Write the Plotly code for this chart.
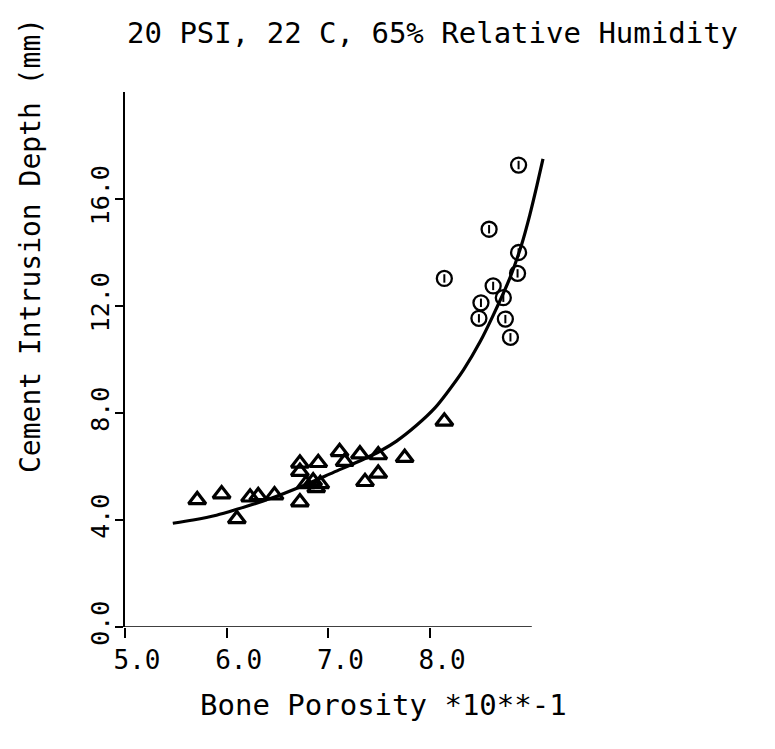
import plotly.graph_objects as go

# Triangles (lower porosity group)
tri_x = [5.71, 5.95, 6.10, 6.23, 6.31, 6.47, 6.72, 6.72, 6.72, 6.90, 6.78, 6.85, 6.92, 6.88,
         7.11, 7.16, 7.31, 7.49, 7.36, 7.49, 7.75, 8.14]
tri_y = [4.75, 4.97, 4.04, 4.85, 4.90, 4.93, 4.67, 6.12, 5.81, 6.14, 5.35, 5.45, 5.35, 5.20,
         6.55, 6.18, 6.46, 6.43, 5.43, 5.74, 6.33, 7.69]

# Circles (high porosity group)
cir_x = [8.87, 8.58, 8.14, 8.87, 8.86, 8.62, 8.72, 8.50, 8.48, 8.74, 8.79]
cir_y = [17.27, 14.87, 13.03, 14.00, 13.22, 12.75, 12.31, 12.12, 11.54, 11.51, 10.83]

# Fitted curve
fit_x = [5.47, 5.67, 5.90, 6.10, 6.43, 6.75, 7.05, 7.35, 7.51, 7.67, 7.87, 8.05, 8.16,
         8.33, 8.49, 8.62, 8.79, 8.90, 8.98, 9.05, 9.11]
fit_y = [3.88, 4.00, 4.18, 4.40, 4.80, 5.28, 5.78, 6.28, 6.58, 6.95, 7.55, 8.20, 8.72,
         9.62, 10.65, 11.65, 13.10, 14.30, 15.40, 16.50, 17.50]

x_ticks = [5.0, 6.0, 7.0, 8.0]
y_ticks = [0.0, 4.0, 8.0, 12.0, 16.0]
x_axis_end = 9.0

title_text = "20 PSI, 22 C, 65% Relative Humidity"
x_title = "Bone Porosity *10**-1"
y_title = "Cement Intrusion Depth (mm)"

FONT = "DejaVu Sans Mono"
OFF = 8                       # default page body margin
W, H = 775 - OFF, 749 - OFF
PL, PR = 125 - OFF, 545 - OFF  # plot area pixel extent (x)
PT, PB = 92 - OFF, 627 - OFF   # plot area pixel extent (y)

fig = go.Figure()
fig.add_trace(go.Scatter(x=fit_x, y=fit_y, mode="lines",
                         line=dict(color="black", width=3.2, shape="spline", smoothing=0.8),
                         hoverinfo="skip", showlegend=False))
fig.add_trace(go.Scatter(x=tri_x, y=tri_y, mode="markers",
                         marker=dict(symbol="triangle-up-open", size=15, color="black",
                                     line=dict(color="black", width=3.2)),
                         cliponaxis=False, showlegend=False))
fig.add_trace(go.Scatter(x=cir_x, y=cir_y, mode="markers",
                         marker=dict(symbol="circle-open", size=15, color="black",
                                     line=dict(color="black", width=2.3)),
                         cliponaxis=False, showlegend=False))
fig.add_trace(go.Scatter(x=cir_x, y=cir_y, mode="markers",
                         marker=dict(symbol="line-ns-open", size=6, color="black",
                                     line=dict(color="black", width=2)),
                         cliponaxis=False, showlegend=False, hoverinfo="skip"))

fig.update_layout(
    width=W, height=H,
    margin=dict(l=PL, r=W - PR, t=PT, b=H - PB, autoexpand=False),
    paper_bgcolor="white", plot_bgcolor="white",
    font=dict(family=FONT, color="black", size=25),
    title=dict(text=title_text, x=(127 - OFF) / W, xanchor="left", xref="container",
               y=1 - (33 - OFF) / H, yanchor="middle", yref="container",
               font=dict(family=FONT, size=29, color="black")),
    showlegend=False,
)
fig.update_xaxes(range=[5, 5 + (PR - PL) / 101.7], tickvals=x_ticks,
                 ticktext=[f"{v:.1f}" for v in x_ticks], automargin=False,
                 showgrid=False, zeroline=False, showline=False,
                 ticks="outside", ticklen=10, tickwidth=1.5, tickcolor="black",
                 ticklabelshift=12,
                 tickfont=dict(family=FONT, size=26, color="black"))
fig.update_yaxes(range=[0, 20], tickvals=y_ticks, ticktext=[f"{v:.1f}" for v in y_ticks],
                 automargin=False,
                 showgrid=False, zeroline=False, showline=True, linecolor="black", linewidth=1.5,
                 ticks="outside", ticklen=8, tickwidth=1.5, tickcolor="black", tickangle=-90,
                 ticklabelstandoff=-4,
                 tickfont=dict(family=FONT, size=25, color="black"))

# x axis line stops at 9.0 while the curve runs a little past it
fig.add_shape(type="line", xref="x", yref="y", x0=x_ticks[0], x1=x_axis_end, y0=0, y1=0,
              line=dict(color="black", width=1.5), layer="above")

fig.add_annotation(text=x_title, xref="paper", yref="paper",
                   x=(383 - OFF - PL) / (PR - PL), y=(PB - (705 - OFF)) / (PB - PT),
                   xanchor="center", yanchor="middle", showarrow=False,
                   font=dict(family=FONT, size=29, color="black"))
fig.add_annotation(text=y_title, xref="paper", yref="paper",
                   x=(30 - OFF - PL) / (PR - PL), y=(PB - (246 - OFF)) / (PB - PT),
                   xanchor="center", yanchor="middle", showarrow=False, textangle=-90,
                   font=dict(family=FONT, size=28, color="black"))

fig.write_html("out.html")
